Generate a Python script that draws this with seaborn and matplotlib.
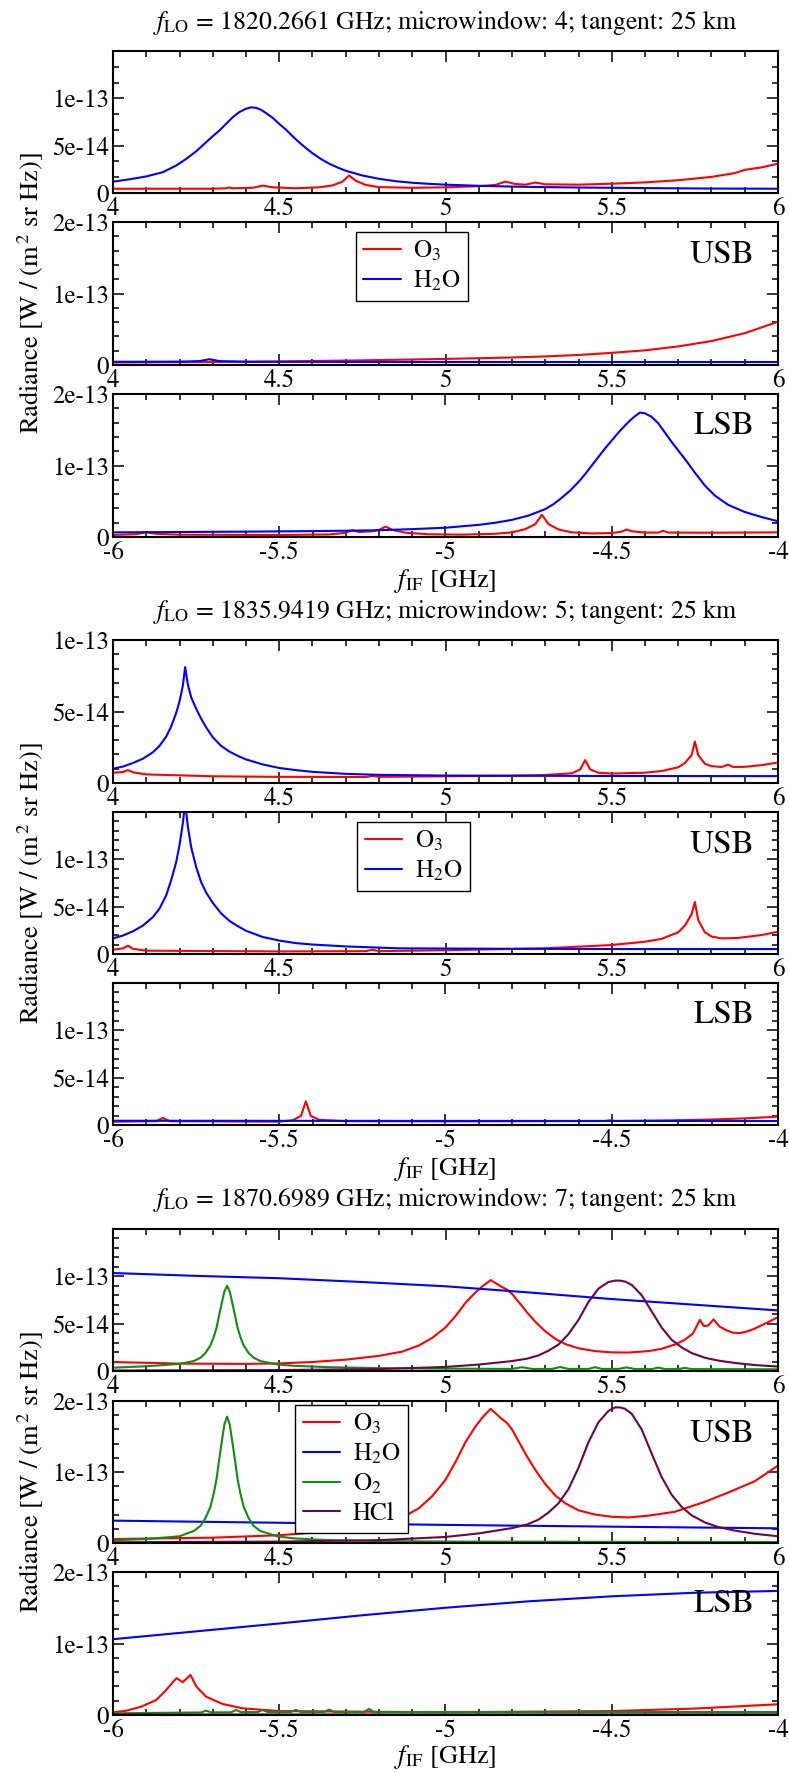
import matplotlib
matplotlib.use("Agg")
import matplotlib.pyplot as plt
from matplotlib.lines import Line2D
from matplotlib.ticker import MultipleLocator
import pandas as pd
import seaborn as sns

# ------------------------------------------------------------------
# Simulated limb radiances, tangent height 25 km.
# f = intermediate frequency [GHz]; r = radiance in units of 1e-14 W/(m^2 sr Hz)
# dsb = double sideband (mean), usb = upper sideband, lsb = lower sideband
# ------------------------------------------------------------------

# ---- microwindow 4, f_LO = 1820.2661 GHz ----
mw4_dsb_o3_f = [4.00, 4.30, 4.34, 4.35, 4.36, 4.42, 4.45, 4.48, 4.55, 4.62, 4.66, 4.69, 4.71, 4.73, 4.76, 4.80,
                4.90, 5.00, 5.10, 5.15, 5.18, 5.21, 5.24, 5.27, 5.30, 5.40, 5.50, 5.60, 5.70, 5.80, 5.87, 5.90,
                5.95, 6.00]
mw4_dsb_o3_r = [0.45, 0.45, 0.5, 0.58, 0.5, 0.55, 0.78, 0.6, 0.5, 0.6, 0.8, 1.2, 1.85, 1.3, 0.85, 0.62,
                0.55, 0.6, 0.72, 0.85, 1.2, 0.95, 0.88, 1.1, 0.92, 0.88, 0.98, 1.12, 1.35, 1.7, 2.1, 2.45,
                2.7, 3.1]
mw4_dsb_h2o_f = [4.00, 4.05, 4.10, 4.15, 4.19, 4.22, 4.25, 4.275, 4.30, 4.32, 4.34, 4.36, 4.38, 4.40, 4.415,
                 4.43, 4.445, 4.46, 4.48, 4.50, 4.52, 4.54, 4.56, 4.58, 4.60, 4.625, 4.65, 4.675, 4.70, 4.75,
                 4.80, 4.85, 4.90, 4.95, 5.00, 5.10, 5.20, 5.30, 5.40, 5.60, 5.80, 6.00]
mw4_dsb_h2o_r = [1.2, 1.45, 1.75, 2.2, 2.9, 3.6, 4.4, 5.2, 6.0, 6.6, 7.3, 8.0, 8.55, 8.9, 9.05,
                 9.0, 8.8, 8.45, 7.95, 7.3, 6.7, 6.0, 5.35, 4.75, 4.2, 3.6, 3.1, 2.7, 2.35, 1.85,
                 1.5, 1.25, 1.08, 0.97, 0.88, 0.76, 0.68, 0.62, 0.58, 0.52, 0.47, 0.45]

mw4_usb_o3_f = [4.00, 4.25, 4.50, 4.75, 5.00, 5.20, 5.30, 5.40, 5.50, 5.60, 5.70, 5.80, 5.90, 6.00]
mw4_usb_o3_r = [0.35, 0.4, 0.5, 0.65, 0.85, 1.05, 1.2, 1.4, 1.7, 2.05, 2.6, 3.35, 4.45, 6.05]
mw4_usb_h2o_f = [4.00, 4.20, 4.26, 4.29, 4.32, 4.40, 5.00, 6.00]
mw4_usb_h2o_r = [0.45, 0.47, 0.55, 0.8, 0.55, 0.45, 0.42, 0.42]

mw4_lsb_o3_f = [-6.00, -5.93, -5.90, -5.87, -5.80, -5.50, -5.35, -5.30, -5.28, -5.26, -5.22, -5.20, -5.18,
                -5.16, -5.12, -5.05, -4.95, -4.85, -4.80, -4.76, -4.73, -4.71, -4.69, -4.66, -4.62, -4.56,
                -4.50, -4.47, -4.455, -4.44, -4.40, -4.36, -4.345, -4.33, -4.20, -4.00]
mw4_lsb_o3_r = [0.28, 0.4, 0.65, 0.45, 0.32, 0.28, 0.35, 0.6, 0.95, 0.7, 0.8, 1.0, 1.45,
                1.0, 0.6, 0.38, 0.33, 0.45, 0.65, 1.1, 1.8, 3.1, 1.8, 1.05, 0.65, 0.5,
                0.55, 0.75, 1.05, 0.8, 0.62, 0.62, 0.85, 0.62, 0.6, 0.65]
mw4_lsb_h2o_f = [-6.00, -5.80, -5.60, -5.40, -5.30, -5.20, -5.10, -5.00, -4.95, -4.90, -4.85, -4.80, -4.75,
                 -4.70, -4.675, -4.65, -4.625, -4.60, -4.58, -4.56, -4.54, -4.52, -4.50, -4.48, -4.46,
                 -4.445, -4.43, -4.415, -4.40, -4.38, -4.36, -4.34, -4.32, -4.30, -4.275, -4.25, -4.22,
                 -4.19, -4.15, -4.10, -4.05, -4.00]
mw4_lsb_h2o_r = [0.65, 0.7, 0.75, 0.82, 0.88, 0.95, 1.1, 1.3, 1.5, 1.7, 2.0, 2.4, 3.0,
                 3.9, 4.6, 5.5, 6.5, 7.7, 8.8, 10.0, 11.2, 12.4, 13.5, 14.6, 15.6,
                 16.3, 16.9, 17.4, 17.3, 16.8, 15.9, 14.6, 13.3, 12.1, 10.6, 9.0, 7.2,
                 5.8, 4.5, 3.5, 2.8, 2.2]

# ---- microwindow 5, f_LO = 1835.9419 GHz ----
mw5_dsb_o3_f = [4.00, 4.03, 4.045, 4.06, 4.10, 4.30, 4.50, 4.76, 4.78, 4.80, 5.00, 5.20, 5.30, 5.38, 5.405,
                5.42, 5.435, 5.46, 5.50, 5.60, 5.65, 5.70, 5.72, 5.74, 5.75, 5.76, 5.78, 5.80, 5.83, 5.85,
                5.865, 5.90, 5.95, 6.00]
mw5_dsb_o3_r = [0.72, 0.77, 0.9, 0.75, 0.6, 0.47, 0.43, 0.42, 0.5, 0.43, 0.47, 0.51, 0.56, 0.68, 0.95,
                1.6, 0.95, 0.72, 0.66, 0.72, 0.84, 1.1, 1.4, 1.95, 2.9, 1.95, 1.35, 1.18, 1.12, 1.28,
                1.12, 1.13, 1.25, 1.43]
mw5_dsb_h2o_f = [4.00, 4.03, 4.06, 4.09, 4.12, 4.14, 4.16, 4.175, 4.19, 4.20, 4.21, 4.217, 4.225, 4.235,
                 4.25, 4.265, 4.28, 4.30, 4.325, 4.35, 4.375, 4.40, 4.45, 4.50, 4.55, 4.60, 4.70, 4.80,
                 5.00, 5.50, 6.00]
mw5_dsb_h2o_r = [1.0, 1.15, 1.4, 1.7, 2.15, 2.6, 3.25, 3.95, 4.9, 5.7, 6.8, 8.1, 6.9, 6.0,
                 5.2, 4.5, 3.9, 3.2, 2.6, 2.2, 1.9, 1.65, 1.3, 1.05, 0.9, 0.78, 0.64, 0.57,
                 0.52, 0.49, 0.48]

mw5_usb_o3_f = [4.00, 4.03, 4.045, 4.06, 4.10, 4.50, 4.76, 4.78, 4.80, 5.00, 5.30, 5.50, 5.60, 5.65, 5.70,
                5.72, 5.74, 5.75, 5.76, 5.78, 5.80, 5.83, 5.88, 5.95, 6.00]
mw5_usb_o3_r = [0.45, 0.6, 0.88, 0.55, 0.35, 0.27, 0.3, 0.45, 0.3, 0.4, 0.6, 0.95, 1.3, 1.6, 2.3,
                3.0, 4.2, 5.5, 3.6, 2.3, 1.85, 1.65, 1.7, 2.0, 2.35]
mw5_usb_h2o_f = [4.00, 4.03, 4.06, 4.09, 4.12, 4.14, 4.16, 4.175, 4.19, 4.20, 4.21, 4.217, 4.225, 4.235,
                 4.25, 4.265, 4.28, 4.30, 4.325, 4.35, 4.375, 4.40, 4.45, 4.50, 4.55, 4.60, 4.70, 4.86,
                 5.20, 5.60, 6.00]
mw5_usb_h2o_r = [1.65, 1.95, 2.4, 3.0, 3.9, 4.8, 6.2, 7.8, 9.7, 11.5, 13.8, 16.0, 13.5, 11.3,
                 9.2, 7.6, 6.5, 5.4, 4.3, 3.5, 2.95, 2.45, 1.8, 1.42, 1.15, 1.0, 0.8, 0.6,
                 0.55, 0.52, 0.52]

mw5_lsb_o3_f = [-6.00, -5.87, -5.85, -5.83, -5.50, -5.46, -5.435, -5.42, -5.405, -5.38, -5.30, -5.00,
                -4.52, -4.505, -4.49, -4.30, -4.20, -4.10, -4.00]
mw5_lsb_o3_r = [0.35, 0.4, 0.75, 0.4, 0.35, 0.5, 0.95, 2.5, 0.95, 0.55, 0.4, 0.38,
                0.42, 0.5, 0.42, 0.5, 0.58, 0.7, 0.88]
mw5_lsb_h2o_f = [-6.00, -5.50, -5.00, -4.50, -4.00]
mw5_lsb_h2o_r = [0.45, 0.44, 0.43, 0.43, 0.42]

# ---- microwindow 7, f_LO = 1870.6989 GHz ----
mw7_dsb_o3_f = [4.00, 4.20, 4.40, 4.50, 4.60, 4.70, 4.80, 4.87, 4.92, 4.96, 5.00, 5.03, 5.06, 5.09, 5.113,
                5.136, 5.15, 5.166, 5.185, 5.20, 5.22, 5.245, 5.27, 5.30, 5.33, 5.36, 5.40, 5.45, 5.50,
                5.55, 5.61, 5.65, 5.69, 5.72, 5.745, 5.765, 5.777, 5.79, 5.806, 5.824, 5.845, 5.864,
                5.884, 5.904, 5.925, 5.946, 5.97, 6.00]
mw7_dsb_o3_r = [0.95, 0.78, 0.75, 0.8, 0.95, 1.2, 1.6, 2.05, 2.7, 3.5, 4.6, 5.8, 7.2, 8.3, 9.0,
                9.6, 9.3, 8.95, 8.6, 8.15, 7.3, 6.2, 5.2, 4.2, 3.4, 2.85, 2.4, 2.1, 1.97,
                1.95, 2.1, 2.35, 2.8, 3.3, 4.0, 5.4, 4.75, 4.8, 5.45, 4.7, 4.3, 4.05,
                4.0, 4.15, 4.4, 4.75, 5.15, 5.7]
mw7_dsb_h2o_f = [4.00, 4.25, 4.50, 4.75, 5.00, 5.25, 5.50, 5.75, 6.00]
mw7_dsb_h2o_r = [10.35, 10.05, 9.8, 9.4, 8.95, 8.3, 7.6, 7.0, 6.4]
mw7_dsb_o2_f = [4.00, 4.10, 4.20, 4.243, 4.263, 4.278, 4.293, 4.303, 4.311, 4.318, 4.326, 4.335, 4.343,
                4.351, 4.36, 4.368, 4.375, 4.383, 4.393, 4.408, 4.423, 4.443, 4.493, 4.543, 4.65, 4.80,
                5.00, 5.20, 5.23, 5.26, 5.32, 5.345, 5.37, 5.43, 5.45, 5.47, 5.52, 5.545, 5.57, 5.62,
                5.64, 5.66, 5.70, 5.72, 5.74, 5.85, 6.00]
mw7_dsb_o2_r = [0.35, 0.5, 0.75, 1.05, 1.4, 1.9, 2.7, 3.6, 4.5, 5.7, 7.0, 8.4, 9.0,
                8.4, 7.0, 5.7, 4.5, 3.6, 2.7, 1.9, 1.4, 1.05, 0.7, 0.55, 0.4, 0.3,
                0.25, 0.22, 0.4, 0.22, 0.22, 0.42, 0.22, 0.22, 0.4, 0.22, 0.22, 0.38, 0.2, 0.2,
                0.36, 0.2, 0.2, 0.33, 0.2, 0.19, 0.18]
mw7_dsb_hcl_f = [4.00, 4.50, 4.80, 5.00, 5.10, 5.20, 5.245, 5.28, 5.31, 5.34, 5.37, 5.40, 5.43, 5.46, 5.49,
                 5.51, 5.525, 5.54, 5.56, 5.59, 5.62, 5.65, 5.68, 5.71, 5.74, 5.78, 5.82, 5.87, 5.93, 6.00]
mw7_dsb_hcl_r = [0.05, 0.1, 0.2, 0.43, 0.68, 1.05, 1.3, 1.65, 2.15, 2.8, 3.9, 5.4, 7.3, 8.7, 9.4,
                 9.55, 9.55, 9.45, 9.1, 8.0, 6.3, 4.6, 3.3, 2.5, 1.9, 1.4, 1.1, 0.85, 0.63, 0.47]

mw7_usb_o3_f = [4.00, 4.30, 4.50, 4.60, 4.70, 4.80, 4.87, 4.92, 4.96, 5.00, 5.03, 5.06, 5.09, 5.113, 5.136,
                5.15, 5.166, 5.185, 5.20, 5.22, 5.245, 5.27, 5.30, 5.33, 5.36, 5.40, 5.45, 5.50, 5.55,
                5.61, 5.69, 5.78, 5.855, 5.93, 6.00]
mw7_usb_o3_r = [0.56, 0.75, 1.1, 1.45, 1.95, 2.7, 3.6, 4.9, 6.6, 8.9, 11.4, 14.2, 16.4, 17.8, 18.9,
                18.3, 17.6, 16.9, 16.0, 14.3, 12.2, 10.3, 8.3, 6.7, 5.6, 4.6, 4.0, 3.7, 3.6,
                3.85, 4.4, 5.8, 7.2, 8.7, 10.9]
mw7_usb_h2o_f = [4.00, 4.50, 5.00, 5.50, 6.00]
mw7_usb_h2o_r = [3.15, 2.85, 2.55, 2.3, 2.07]
mw7_usb_o2_f = [4.00, 4.10, 4.20, 4.243, 4.263, 4.278, 4.293, 4.303, 4.311, 4.318, 4.326, 4.335, 4.343,
                4.351, 4.36, 4.368, 4.375, 4.383, 4.393, 4.408, 4.423, 4.443, 4.493, 4.543, 4.65, 4.80,
                5.00, 5.50, 6.00]
mw7_usb_o2_r = [0.38, 0.55, 0.95, 1.7, 2.4, 3.5, 5.1, 7.0, 8.9, 11.3, 13.9, 16.7, 17.8,
                16.7, 13.9, 11.3, 8.9, 7.0, 5.1, 3.5, 2.4, 1.7, 0.95, 0.65, 0.4, 0.28,
                0.2, 0.16, 0.14]
mw7_usb_hcl_f = [4.00, 4.50, 4.80, 5.00, 5.10, 5.20, 5.245, 5.28, 5.31, 5.34, 5.37, 5.40, 5.43, 5.46, 5.49,
                 5.51, 5.525, 5.54, 5.56, 5.59, 5.62, 5.65, 5.68, 5.71, 5.74, 5.78, 5.82, 5.87, 5.93, 6.00]
mw7_usb_hcl_r = [0.1, 0.2, 0.4, 0.85, 1.35, 2.1, 2.6, 3.3, 4.3, 5.6, 7.6, 10.6, 14.2, 17.0, 18.6,
                 19.1, 19.1, 18.9, 18.2, 16.0, 12.6, 9.3, 6.8, 5.1, 3.9, 2.9, 2.25, 1.75, 1.3, 0.95]

mw7_lsb_o3_f = [-6.00, -5.96, -5.915, -5.87, -5.84, -5.82, -5.809, -5.79, -5.767, -5.749, -5.72, -5.67,
                -5.61, -5.50, -5.00, -4.50, -4.25, -4.00]
mw7_lsb_o3_r = [0.37, 0.6, 1.17, 2.1, 3.5, 4.6, 5.15, 4.6, 5.6, 3.96, 2.56, 1.54,
                0.93, 0.55, 0.38, 0.55, 0.9, 1.5]
mw7_lsb_h2o_f = [-6.00, -5.75, -5.50, -5.25, -5.00, -4.75, -4.50, -4.25, -4.00]
mw7_lsb_h2o_r = [10.6, 11.7, 12.8, 13.95, 15.0, 15.9, 16.6, 17.1, 17.35]
mw7_lsb_o2_f = [-6.00, -5.80, -5.735, -5.72, -5.705, -5.645, -5.63, -5.615, -5.565, -5.55, -5.535, -5.465,
                -5.45, -5.435, -5.365, -5.35, -5.335, -5.245, -5.23, -5.215, -5.00, -4.50, -4.00]
mw7_lsb_o2_r = [0.23, 0.33, 0.36, 0.6, 0.37, 0.38, 0.7, 0.4, 0.4, 0.7, 0.42, 0.42,
                0.72, 0.42, 0.42, 0.75, 0.42, 0.42, 0.85, 0.42, 0.42, 0.42, 0.42]
mw7_lsb_hcl_f = [-6.00, -5.00, -4.00]
mw7_lsb_hcl_r = [0.08, 0.08, 0.1]

titles = ["1820.2661 GHz; microwindow: 4; tangent: 25 km",
          "1835.9419 GHz; microwindow: 5; tangent: 25 km",
          "1870.6989 GHz; microwindow: 7; tangent: 25 km"]
usb_ticks = [4.0, 4.5, 5.0, 5.5, 6.0]
usb_tick_labels = ["4", "4.5", "5", "5.5", "6"]
lsb_ticks = [-6.0, -5.5, -5.0, -4.5, -4.0]
lsb_tick_labels = ["-6", "-5.5", "-5", "-4.5", "-4"]

UNIT = 1e-14
COLORS = {"O3": "#ff0000", "H2O": "#0000ff", "O2": "#138a13", "HCl": "#670748"}
LEGEND_TEXT = {"O3": "O$_3$", "H2O": "H$_2$O", "O2": "O$_2$", "HCl": "HCl"}


def frame(series):
    parts = []
    for name, (f, r) in series.items():
        parts.append(pd.DataFrame({"f_if": f, "radiance": [v * UNIT for v in r], "species": name}))
    return pd.concat(parts, ignore_index=True)


data = [
    [frame({"O3": (mw4_dsb_o3_f, mw4_dsb_o3_r), "H2O": (mw4_dsb_h2o_f, mw4_dsb_h2o_r)}),
     frame({"O3": (mw4_usb_o3_f, mw4_usb_o3_r), "H2O": (mw4_usb_h2o_f, mw4_usb_h2o_r)}),
     frame({"O3": (mw4_lsb_o3_f, mw4_lsb_o3_r), "H2O": (mw4_lsb_h2o_f, mw4_lsb_h2o_r)})],
    [frame({"O3": (mw5_dsb_o3_f, mw5_dsb_o3_r), "H2O": (mw5_dsb_h2o_f, mw5_dsb_h2o_r)}),
     frame({"O3": (mw5_usb_o3_f, mw5_usb_o3_r), "H2O": (mw5_usb_h2o_f, mw5_usb_h2o_r)}),
     frame({"O3": (mw5_lsb_o3_f, mw5_lsb_o3_r), "H2O": (mw5_lsb_h2o_f, mw5_lsb_h2o_r)})],
    [frame({"O3": (mw7_dsb_o3_f, mw7_dsb_o3_r), "H2O": (mw7_dsb_h2o_f, mw7_dsb_h2o_r),
            "O2": (mw7_dsb_o2_f, mw7_dsb_o2_r), "HCl": (mw7_dsb_hcl_f, mw7_dsb_hcl_r)}),
     frame({"O3": (mw7_usb_o3_f, mw7_usb_o3_r), "H2O": (mw7_usb_h2o_f, mw7_usb_h2o_r),
            "O2": (mw7_usb_o2_f, mw7_usb_o2_r), "HCl": (mw7_usb_hcl_f, mw7_usb_hcl_r)}),
     frame({"O3": (mw7_lsb_o3_f, mw7_lsb_o3_r), "H2O": (mw7_lsb_h2o_f, mw7_lsb_h2o_r),
            "O2": (mw7_lsb_o2_f, mw7_lsb_o2_r), "HCl": (mw7_lsb_hcl_f, mw7_lsb_hcl_r)})],
]

# y-axis settings per panel: (ymax, major ticks, labels, minor step)
Y15_THIRDS = (1.5e-13, [0, 5e-14, 1e-13], ["0", "5e-14", "1e-13"], 5e-14 / 3)
Y15 = (1.5e-13, [0, 5e-14, 1e-13], ["0", "5e-14", "1e-13"], 1e-14)
Y10 = (1.0e-13, [0, 5e-14, 1e-13], ["0", "5e-14", "1e-13"], 1e-14)
Y20 = (2.0e-13, [0, 1e-13, 2e-13], ["0", "1e-13", "2e-13"], 2e-14)
yaxes = [[Y15_THIRDS, Y20, Y20], [Y10, Y15, Y15], [Y15, Y20, Y20]]

# ---- layout (pixels) ----
W, H = 789, 1773
AX_L, AX_R = 113, 778
panel_rows = [[(51, 193), (222, 365), (394, 537)],
              [(640, 783), (812, 954), (983, 1125)],
              [(1229, 1371), (1401, 1543), (1572, 1715)]]
title_base = [29, 618, 1206]
xlabel_base = [587, 1175, 1763]
legend_anchor = [(0.365, 0.93), (0.367, 0.93), (0.274, 0.972)]

sns.set_theme(style="ticks")
plt.rcParams.update({
    "font.family": ["STIXGeneral", "DejaVu Serif"],
    "mathtext.fontset": "stix",
    "axes.edgecolor": "black",
    "axes.linewidth": 1.5,
    "xtick.color": "black",
    "ytick.color": "black",
    "text.color": "black",
    "axes.labelcolor": "black",
})

fig = plt.figure(figsize=(W / 100, H / 100), dpi=100)
TICK_FS = 18
LABEL_FS = 19
TXT_X = (AX_L + AX_R) / 2 / W

for g in range(3):
    species = list(data[g][0]["species"].unique())
    for p in range(3):
        top, bot = panel_rows[g][p]
        ax = fig.add_axes([AX_L / W, 1 - bot / H, (AX_R - AX_L) / W, (bot - top) / H])
        sns.lineplot(data=data[g][p], x="f_if", y="radiance", hue="species", hue_order=species,
                     palette=COLORS, estimator=None, sort=False, linewidth=1.5, legend=False, ax=ax)
        lsb = p == 2
        if lsb:
            ax.set_xlim(-6, -4)
            ax.set_xticks(lsb_ticks, lsb_tick_labels)
        else:
            ax.set_xlim(4, 6)
            ax.set_xticks(usb_ticks, usb_tick_labels)
        ax.xaxis.set_minor_locator(MultipleLocator(0.1))
        ymax, yt, yl, ymin_step = yaxes[g][p]
        ax.set_ylim(0, ymax)
        ax.set_yticks(yt, yl)
        ax.yaxis.set_minor_locator(MultipleLocator(ymin_step))
        ax.set_xlabel("")
        ax.set_ylabel("")
        ax.tick_params(which="both", direction="in", top=True, right=True, width=1.1,
                       labelsize=TICK_FS, pad=3)
        ax.tick_params(which="major", length=8)
        ax.tick_params(which="minor", length=4.3)
        for s in ax.spines.values():
            s.set_linewidth(1.5)
            s.set_color("black")

        if p == 1:
            ax.text(0.965, 1 - 41 / 143, "USB", transform=ax.transAxes, ha="right",
                    va="baseline", fontsize=24)
            handles = [Line2D([], [], color=COLORS[s], lw=1.5) for s in species]
            leg = ax.legend(handles, [LEGEND_TEXT[s] for s in species], loc="upper left",
                            bbox_to_anchor=legend_anchor[g], borderaxespad=0, fontsize=TICK_FS,
                            frameon=True, fancybox=False, framealpha=1, edgecolor="black",
                            handlelength=1.5, handletextpad=0.5, borderpad=0.3,
                            labelspacing=0.22)
            leg.get_frame().set_linewidth(1.0)
        if p == 2:
            ax.text(0.965, 1 - 40 / 143, "LSB", transform=ax.transAxes, ha="right",
                    va="baseline", fontsize=24)

    fig.text(TXT_X, 1 - title_base[g] / H, "$f_{\\mathrm{LO}}$ = " + titles[g],
             ha="center", va="baseline", fontsize=18.5)
    fig.text(TXT_X, 1 - xlabel_base[g] / H, "$f_{\\mathrm{IF}}$ [GHz]",
             ha="center", va="baseline", fontsize=LABEL_FS)
    mid_top, mid_bot = panel_rows[g][1]
    fig.text(31 / W, 1 - (mid_top + mid_bot) / 2 / H, "Radiance [W / (m$^{\\,2}$ sr Hz)]",
             rotation=90, ha="center", va="center", fontsize=LABEL_FS)

fig.savefig("out.png", dpi=100)
